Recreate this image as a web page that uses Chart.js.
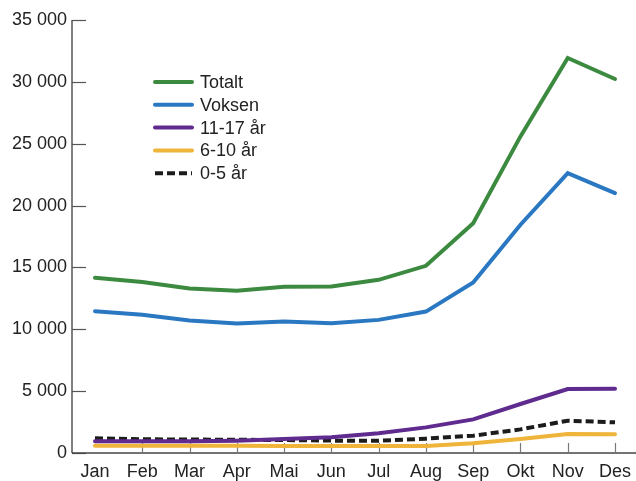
<!DOCTYPE html>
<html>
<head>
<meta charset="utf-8">
<script src="https://cdn.jsdelivr.net/npm/chart.js@4/dist/chart.umd.min.js"></script>
<style>
html,body{margin:0;padding:0;background:#fff;}
#wrap{width:636px;height:481px;position:relative;}
</style>
</head>
<body>
<div id="wrap"><canvas id="c" width="636" height="481"></canvas></div>
<script>
const months = ["Jan","Feb","Mar","Apr","Mai","Jun","Jul","Aug","Sep","Okt","Nov","Des"];
const totalt   = [14160,13830,13300,13120,13430,13460,14000,15130,18580,25590,31930,30230];
const voksen   = [11460,11170,10710,10460,10620,10490,10760,11430,13780,18450,22630,21010];
const age11_17 = [945,945,950,1000,1130,1270,1590,2070,2720,3960,5170,5200];
const age6_10  = [590,590,585,580,575,570,570,570,780,1130,1540,1510];
const age0_5   = [1190,1110,1090,1070,1050,1000,990,1160,1400,1910,2610,2480];
const yTicks   = [0,5000,10000,15000,20000,25000,30000,35000];

const FONT = '"Liberation Sans", Arial, sans-serif';
const TXT = '#222222';

function fmt(v){ return String(v).replace(/\B(?=(\d{3})+(?!\d))/g, ' '); }
function pts(arr){ return arr.map((v,i)=>({x:i,y:v})); }

const series = [
  {label:'Totalt',   data:totalt,   color:'#3b8a3f', dash:[]},
  {label:'Voksen',   data:voksen,   color:'#2a77c2', dash:[]},
  {label:'11-17 år', data:age11_17, color:'#5f2b8f', dash:[]},
  {label:'6-10 år',  data:age6_10,  color:'#efb43a', dash:[]},
  {label:'0-5 år',   data:age0_5,   color:'#1c1c1c', dash:[8,4]}
];

const axesPlugin = {
  id:'axesPlugin',
  beforeDatasetsDraw(chart){
    const ctx = chart.ctx, ca = chart.chartArea;
    const xs = chart.scales.x, ys = chart.scales.y;
    ctx.save();
    ctx.strokeStyle = '#808080';
    ctx.lineWidth = 2;
    ctx.beginPath(); ctx.moveTo(ca.left, ca.top); ctx.lineTo(ca.left, ca.bottom); ctx.stroke();
    ctx.strokeStyle = '#555555';
    ctx.lineWidth = 1.2;
    yTicks.forEach(v=>{
      const y = Math.round(ys.getPixelForValue(v))+0.5;
      ctx.beginPath(); ctx.moveTo(ca.left, y); ctx.lineTo(ca.left+14, y); ctx.stroke();
    });
    ctx.strokeStyle = '#444444';
    ctx.lineWidth = 1.5;
    const yb = ys.getPixelForValue(0);
    ctx.beginPath(); ctx.moveTo(ca.left, yb); ctx.lineTo(chart.width, yb); ctx.stroke();
    ctx.strokeStyle = '#777777';
    ctx.lineWidth = 1.2;
    months.forEach((m,i)=>{
      if(i===0) return;
      const x = Math.round(xs.getPixelForValue(i))+0.5;
      ctx.beginPath(); ctx.moveTo(x, yb); ctx.lineTo(x, yb-10); ctx.stroke();
    });
    ctx.restore();
  },
  afterDraw(chart){
    const ctx = chart.ctx;
    ctx.save();
    const x0 = 155, x1 = 192, tx = 200, y0 = 82, dy = 22.8;
    chart.data.datasets.forEach((ds,i)=>{
      const y = y0 + i*dy;
      ctx.strokeStyle = ds.borderColor;
      ctx.lineWidth = 4;
      ctx.lineCap = ds.borderDash && ds.borderDash.length ? 'butt' : 'round';
      ctx.setLineDash(ds.borderDash || []);
      ctx.beginPath(); ctx.moveTo(x0, y); ctx.lineTo(x1, y); ctx.stroke();
      ctx.setLineDash([]);
      ctx.fillStyle = TXT;
      ctx.font = '18px ' + FONT;
      ctx.textBaseline = 'middle';
      ctx.textAlign = 'left';
      ctx.fillText(ds.label, tx, y+1);
    });
    ctx.restore();
  }
};

new Chart(document.getElementById('c'), {
  type:'line',
  data:{
    datasets: series.map(s=>({
      label:s.label,
      data:pts(s.data),
      borderColor:s.color,
      backgroundColor:s.color,
      borderWidth:4,
      borderDash:s.dash,
      borderCapStyle: s.dash.length ? 'butt' : 'round',
      borderJoinStyle:'miter',
      pointRadius:0,
      tension:0,
      fill:false
    }))
  },
  options:{
    responsive:false,
    animation:false,
    events:[],
    layout:{padding:{top:20,right:0,bottom:0,left:0}},
    plugins:{legend:{display:false},tooltip:{enabled:false}},
    scales:{
      x:{
        type:'linear',
        min:-0.4866, max:11.444,
        afterBuildTicks:(s)=>{ s.ticks = months.map((m,i)=>({value:i})); },
        afterFit:(s)=>{ s.height = 28; s.paddingLeft = 0; s.paddingRight = 0; },
        grid:{display:false, drawTicks:false},
        border:{display:false},
        ticks:{
          autoSkip:false, maxRotation:0, padding:8,
          color:TXT, font:{family:FONT, size:18},
          callback:(v)=>months[v]
        }
      },
      y:{
        min:0, max:35000,
        afterBuildTicks:(s)=>{ s.ticks = yTicks.map(v=>({value:v})); },
        afterFit:(s)=>{ s.width = 72; s.paddingTop = 0; s.paddingBottom = 0; },
        grid:{display:false, drawTicks:false},
        border:{display:false},
        ticks:{
          padding:5, color:TXT, font:{family:FONT, size:18},
          callback:(v)=>fmt(v)
        }
      }
    }
  },
  plugins:[axesPlugin]
});
</script>
</body>
</html>
